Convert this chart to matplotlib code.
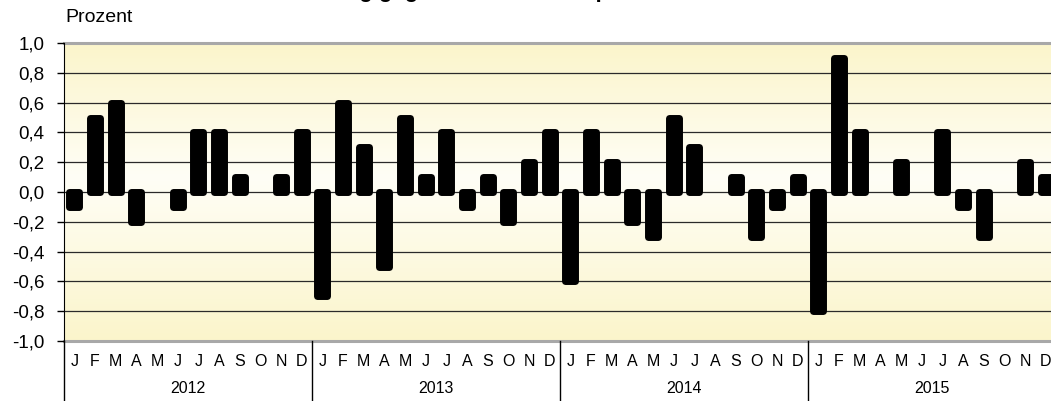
import numpy as np
import matplotlib
matplotlib.use("Agg")
import matplotlib.pyplot as plt
from matplotlib.colors import LinearSegmentedColormap

plt.rcParams['font.family'] = ['Liberation Sans', 'DejaVu Sans']

# monthly change in percent, 2012-2015 (0 = no bar drawn)
years = ["2012", "2013", "2014", "2015"]
months = ["J", "F", "M", "A", "M", "J", "J", "A", "S", "O", "N", "D"]
v2012 = [-0.1, 0.5, 0.6, -0.2, 0.0, -0.1, 0.4, 0.4, 0.1, 0.0, 0.1, 0.4]
v2013 = [-0.7, 0.6, 0.3, -0.5, 0.5, 0.1, 0.4, -0.1, 0.1, -0.2, 0.2, 0.4]
v2014 = [-0.6, 0.4, 0.2, -0.2, -0.3, 0.5, 0.3, 0.0, 0.1, -0.3, -0.1, 0.1]
v2015 = [-0.8, 0.9, 0.4, 0.0, 0.2, 0.0, 0.4, -0.1, -0.3, 0.0, 0.2, 0.1]
yticks = [-1.0, -0.8, -0.6, -0.4, -0.2, 0.0, 0.2, 0.4, 0.6, 0.8, 1.0]

vals = np.array(v2012 + v2013 + v2014 + v2015)
x = np.arange(len(vals))

W, H = 1051, 401
fig = plt.figure(figsize=(W / 100, H / 100), dpi=100)
ax = fig.add_axes([64 / W, 60 / H, 992 / W, 298 / H])

# background gradient: yellow at top/bottom, almost white around the middle
cmap = LinearSegmentedColormap.from_list(
    "bg", [(0, "#fbf5cb"), (0.45, "#fffef6"), (1, "#fbf5cb")])
grad = np.linspace(0, 1, 256).reshape(-1, 1)
ax.imshow(grad, extent=[-0.5, 47.5, -1, 1], aspect='auto', cmap=cmap,
          zorder=0, origin='upper')

for t in yticks[1:-1]:
    ax.axhline(t, color="#2a2a2a", lw=0.9, zorder=1)
for t in (yticks[0], yticks[-1]):
    ax.axhline(t, color="#a8a8a8", lw=2.2, zorder=1, clip_on=False)

m = vals != 0
ax.bar(x[m], vals[m], width=0.47, color="black", edgecolor="black",
       linewidth=5.0, joinstyle='round', zorder=3)

ax.set_xlim(-0.5, 47.5)
ax.set_ylim(-1, 1)
ax.set_yticks(yticks)
ax.set_yticklabels([f"{t:.1f}".replace(".", ",") for t in yticks], fontsize=13.5)
ax.tick_params(axis='y', length=5, width=1, pad=9, direction='out')
ax.set_xticks([])
for s in ("top", "right", "bottom"):
    ax.spines[s].set_visible(False)
ax.spines["left"].set_color("black")
ax.spines["left"].set_zorder(4)

xt = ax.get_xaxis_transform()
for xs in [-0.5, 11.5, 23.5, 35.5]:
    ax.plot([xs, xs], [0, -0.21], transform=xt, color="black", lw=1,
            clip_on=False)
for i, lab in enumerate(months * len(years)):
    ax.text(i, -0.07, lab, transform=xt, ha='center', va='center',
            fontsize=11.5)
for k, yr in enumerate(years):
    ax.text(k * 12 + 5.5, -0.158, yr, transform=xt, ha='center', va='center',
            fontsize=11.5)

fig.text(65 / W, 1 - 17 / H, "Prozent", ha='left', va='center', fontsize=14)
fig.text(533 / W, 1 + 3 / H, "Veränderung gegenüber dem entsprechenden Vormonat",
         ha='center', va='baseline', fontsize=16, fontweight='bold')

fig.savefig("out.png", dpi=100)
